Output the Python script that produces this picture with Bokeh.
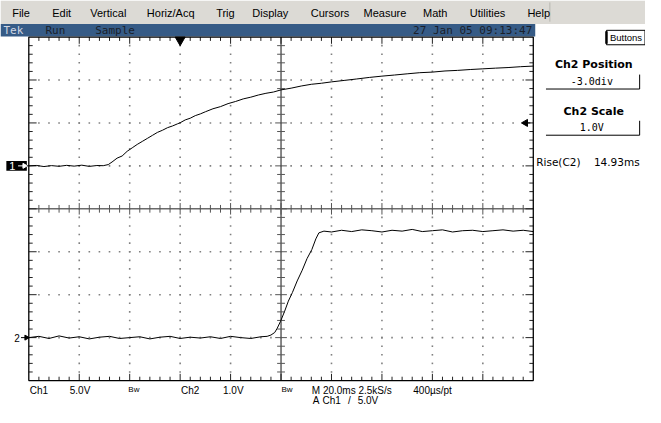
import numpy as np
from bokeh.plotting import figure
from bokeh.models import Range1d, ColumnDataSource
from bokeh.core.properties import value
from bokeh.embed import file_html
from bokeh.resources import INLINE

# ---------------- scope settings ----------------
MS_PER_DIV = 20.0
CH1_V_PER_DIV = 5.0
CH2_V_PER_DIV = 1.0
CH1_POS_DIV = 1.0
CH2_POS_DIV = -3.0
TRIG_POS_DIV = 3.0
TRIG_LEVEL_V = 5.0
N_XDIV = 10
N_YDIV = 8

# ---------------- waveform data (ms, volts) ----------------
ch1_t = [-60, -57, -54, -51, -48, -45, -42, -39, -36, -33, -30.5, -28.5, -27, -25, -23,
         -21, -19, -17, -15, -13, -11, -9, -7, -5, -3, -1, 0, 2, 4, 6, 8, 10, 13, 16, 19,
         22, 25, 28, 31, 34, 37, 40, 44, 48, 52, 56, 60, 65, 70, 75, 80, 85, 90, 95, 100,
         105, 110, 115, 120, 125, 130, 135, 140]
ch1_v = [0.00, 0.05, -0.08, 0.03, -0.05, 0.06, -0.03, 0.08, -0.06, 0.04, 0.02, 0.15, 0.45,
         0.90, 1.15, 1.70, 2.10, 2.50, 2.85, 3.20, 3.55, 3.90, 4.15, 4.45, 4.65, 4.90, 5.02,
         5.35, 5.55, 5.85, 6.05, 6.30, 6.65, 6.90, 7.25, 7.50, 7.80, 8.00, 8.25, 8.45, 8.60,
         8.85, 9.05, 9.30, 9.50, 9.62, 9.78, 9.95, 10.12, 10.30, 10.45, 10.58, 10.72, 10.85,
         10.92, 11.05, 11.12, 11.22, 11.30, 11.38, 11.45, 11.55, 11.62]

ch2_t = [-60, -56, -52, -48, -44, -40, -36, -32, -28, -24, -20, -16, -12, -8, -4, 0, 4, 8,
         12, 16, 20, 24, 28, 32, 34.5, 36, 37.5, 38.5, 39.8, 41.4, 42.9, 44.5, 46.4, 48.4,
         50.3, 52.2, 53.8, 55, 57, 60, 64, 68, 72, 76, 80, 84, 88, 92, 96, 100, 104, 108,
         112, 116, 120, 124, 128, 132, 136, 140]
ch2_v = [0.00, 0.03, -0.02, 0.04, -0.01, 0.02, -0.03, 0.01, 0.03, -0.02, 0.00, 0.02, -0.03,
         0.01, 0.03, -0.02, 0.01, -0.01, 0.02, -0.02, 0.03, 0.00, -0.02, 0.02, 0.03, 0.06,
         0.12, 0.22, 0.38, 0.61, 0.85, 1.05, 1.32, 1.57, 1.84, 2.05, 2.30, 2.44, 2.48, 2.46,
         2.50, 2.47, 2.51, 2.49, 2.46, 2.50, 2.48, 2.52, 2.47, 2.49, 2.51, 2.46, 2.49, 2.50,
         2.47, 2.49, 2.51, 2.48, 2.50, 2.47]

# ---------------- UI texts ----------------
menu_items = ["File", "Edit", "Vertical", "Horiz/Acq", "Trig", "Display", "Cursors",
              "Measure", "Math", "Utilities", "Help"]
menu_x = [12, 53, 92, 150, 221, 258, 318, 372, 433, 481, 540]
status_items = ["Run", "Sample"]
status_x = [46, 97]
status_date = "27 Jan 05 09:13:47"
row1_texts = ["Ch1", "5.0V", "Ch2", "1.0V", "M 20.0ms 2.5kS/s", "400µs/pt"]
row1_x = [30, 71, 185, 228, 319, 423]
bw_x = [131, 288]
row2_texts = ["A", "Ch1", "/", "5.0V"]
row2_x = [320, 330, 356, 366]
rise_label, rise_value = "Rise(C2)", "14.93ms"

# ---------------- screen mapping (reference pixels -> data) ----------------
REF_W, REF_H = 661, 423
GX0, GX1, GY0, GY1 = 29.0, 546.0, 38.0, 395.0
T0 = -TRIG_POS_DIV * MS_PER_DIV
T1 = T0 + N_XDIV * MS_PER_DIV
YT, YB = N_YDIV / 2, -N_YDIV / 2


def fx(xr):
    return T0 + (xr - GX0) / (GX1 - GX0) * (T1 - T0)


def fy(yr):
    return YT - (yr - GY0) / (GY1 - GY0) * N_YDIV


PX = (T1 - T0) / (GX1 - GX0)
PY = N_YDIV / (GY1 - GY0)

y_lo, y_hi = fy(REF_H), fy(0)
p = figure(width=645, height=407, x_range=Range1d(fx(0), fx(REF_W)),
           y_range=Range1d(y_lo, y_hi), output_backend="svg", toolbar_location=None,
           min_border=0, x_axis_location=None, y_axis_location=None)
p.grid.visible = False
p.outline_line_color = None
p.background_fill_color = "white"
p.border_fill_color = "white"
p.extra_y_ranges = {
    "ch1": Range1d((y_lo - CH1_POS_DIV) * CH1_V_PER_DIV, (y_hi - CH1_POS_DIV) * CH1_V_PER_DIV),
    "ch2": Range1d((y_lo - CH2_POS_DIV) * CH2_V_PER_DIV, (y_hi - CH2_POS_DIV) * CH2_V_PER_DIV),
}


def add_text(xs, ys, texts, size, font="Liberation Sans", align="left", color="black",
             style="normal"):
    src = ColumnDataSource(dict(x=[fx(v) for v in xs], y=[fy(v) for v in ys], text=texts))
    p.text("x", "y", "text", source=src, text_font=value(font),
           text_font_size=value(f"{size}px"), text_align=align, text_baseline="middle",
           text_color=color, text_font_style=style)


# ---------------- menu bar & status bar ----------------
p.quad(left=fx(0), right=fx(REF_W), top=fy(0), bottom=fy(24.5), fill_color="#dcdad5",
       line_color=None)
p.segment(x0=fx(563), y0=fy(2), x1=fx(563), y1=fy(22), line_color="#b8b6b0", line_width=1)
add_text(menu_x, [12.5] * len(menu_x), menu_items, 11)
p.quad(left=fx(0), right=fx(548), top=fy(24.5), bottom=fy(37.5), fill_color="#365b86",
       line_color=None)
add_text([3], [31], ["Tek"], 11, font="DejaVu Sans Mono", color="#d0d6e2")
add_text(status_x, [31, 31], status_items, 11, font="DejaVu Sans Mono", color="#1a1f2a")
add_text([545], [31], [status_date], 11, font="DejaVu Sans Mono", align="right",
         color="#1a1f2a")

# ---------------- graticule ----------------
dot_x, dot_y = [], []
for k in range(1, N_XDIV):
    if k == N_XDIV // 2:
        continue
    for j in range(1, N_YDIV * 5):
        dot_x.append(T0 + k * MS_PER_DIV)
        dot_y.append(YB + j * 0.2)
for k in range(1, N_YDIV):
    if k == N_YDIV // 2:
        continue
    for j in range(1, N_XDIV * 5):
        dot_x.append(T0 + j * MS_PER_DIV / 5)
        dot_y.append(YB + k)
p.scatter(dot_x, dot_y, marker="square", size=1.6, fill_color="#808080", line_color=None)

xc = (T0 + T1) / 2
p.segment(x0=[xc, T0], y0=[YB, 0], x1=[xc, T1], y1=[YT, 0], line_color="#6a6a6a",
          line_width=1.6)

bx0, by0, bx1, by1 = [], [], [], []
cx0, cy0, cx1, cy1 = [], [], [], []
for k in range(1, N_XDIV * 5):
    x = T0 + k * MS_PER_DIV / 5
    L = 7 if k % 5 == 0 else 4
    bx0 += [x, x]; by0 += [YT, YB]; bx1 += [x, x]; by1 += [YT - L * PY, YB + L * PY]
    C = 6 if k % 5 == 0 else 4
    cx0.append(x); cy0.append(-C * PY); cx1.append(x); cy1.append(C * PY)
for k in range(1, N_YDIV * 5):
    y = YB + k * 0.2
    L = 8 if k % 5 == 0 else 4
    bx0 += [T0, T1]; by0 += [y, y]; bx1 += [T0 + L * PX, T1 - L * PX]; by1 += [y, y]
    C = 6 if k % 5 == 0 else 4
    cx0.append(xc - C * PX); cy0.append(y); cx1.append(xc + C * PX); cy1.append(y)
p.segment(x0=bx0, y0=by0, x1=bx1, y1=by1, line_color="#222222", line_width=1)
p.segment(x0=cx0, y0=cy0, x1=cx1, y1=cy1, line_color="#555555", line_width=1)
p.quad(left=T0, right=T1, bottom=YB, top=YT, fill_color=None, line_color="black",
       line_width=1.3)

# ---------------- waveforms ----------------
p.line(ch1_t, ch1_v, y_range_name="ch1", line_color="black", line_width=1)
p.line(ch2_t, ch2_v, y_range_name="ch2", line_color="black", line_width=1)

# trigger position & level markers
p.scatter([0.0], [YT - 3 * PY], marker="inverted_triangle", size=10, color="black")
p.scatter([T1 - 8 * PX], [TRIG_LEVEL_V], y_range_name="ch1", marker="triangle",
          angle=np.pi / 2, size=7, color="black")
p.segment(x0=[T1 - 8 * PX], y0=[TRIG_LEVEL_V], x1=[T1 - 3 * PX], y1=[TRIG_LEVEL_V],
          y_range_name="ch1", line_color="black", line_width=1)

# channel ground markers
p.quad(left=fx(6), right=fx(27), bottom=CH1_POS_DIV - 5 * PY, top=CH1_POS_DIV + 5 * PY,
       fill_color="black", line_color=None)
p.text([fx(12)], [CH1_POS_DIV], ["1"], text_font=value("Liberation Sans"),
       text_font_size=value("11px"), text_align="center", text_baseline="middle",
       text_color="white")
p.segment(x0=[fx(18)], y0=[CH1_POS_DIV], x1=[fx(25)], y1=[CH1_POS_DIV], line_color="white",
          line_width=1)
p.scatter([fx(24.5)], [CH1_POS_DIV], marker="triangle", angle=-np.pi / 2, size=5,
          color="white")
p.segment(x0=[fx(27)], y0=[CH1_POS_DIV], x1=[T0], y1=[CH1_POS_DIV], line_color="black",
          line_width=1)
p.text([fx(17)], [CH2_POS_DIV], ["2"], text_font=value("Liberation Sans"),
       text_font_size=value("10px"), text_align="center", text_baseline="middle",
       text_color="black")
p.segment(x0=[fx(21)], y0=[CH2_POS_DIV], x1=[T0], y1=[CH2_POS_DIV], line_color="black",
          line_width=1)
p.scatter([fx(26.5)], [CH2_POS_DIV], marker="triangle", angle=-np.pi / 2, size=5,
          color="black")

# ---------------- right side panel ----------------
p.quad(left=fx(621), right=fx(660.5), top=fy(31), bottom=fy(46), fill_color="white",
       line_color="black", line_width=1)
p.segment(x0=[fx(621)], y0=[fy(32)], x1=[fx(621)], y1=[fy(45)], line_color="black",
          line_width=2.5)
add_text([641], [38.5], ["Buttons"], 9.5, align="center")
add_text([608, 608], [67, 115], ["Ch2 Position", "Ch2 Scale"], 11, font="DejaVu Sans",
         align="center", style="bold")
p.segment(x0=[fx(559), fx(655), fx(559), fx(655)], y0=[fy(92), fy(77), fy(140), fy(125)],
          x1=[fx(655), fx(655), fx(655), fx(655)], y1=[fy(92), fy(92), fy(140), fy(140)],
          line_color="black", line_width=1)
add_text([606, 606], [84, 132], ["-3.0div", "1.0V"], 10, font="DejaVu Sans Mono",
         align="center")
add_text([549], [168], [rise_label], 10.5, font="DejaVu Sans")
add_text([655], [168], [rise_value], 10.5, font="DejaVu Sans", align="right")

# ---------------- bottom readouts ----------------
add_text(row1_x, [405] * len(row1_x), row1_texts, 10)
add_text(bw_x, [404, 404], ["Bw", "Bw"], 8)
add_text(row2_x, [416] * len(row2_x), row2_texts, 10)

open("out.html", "w").write(file_html(p, INLINE))
